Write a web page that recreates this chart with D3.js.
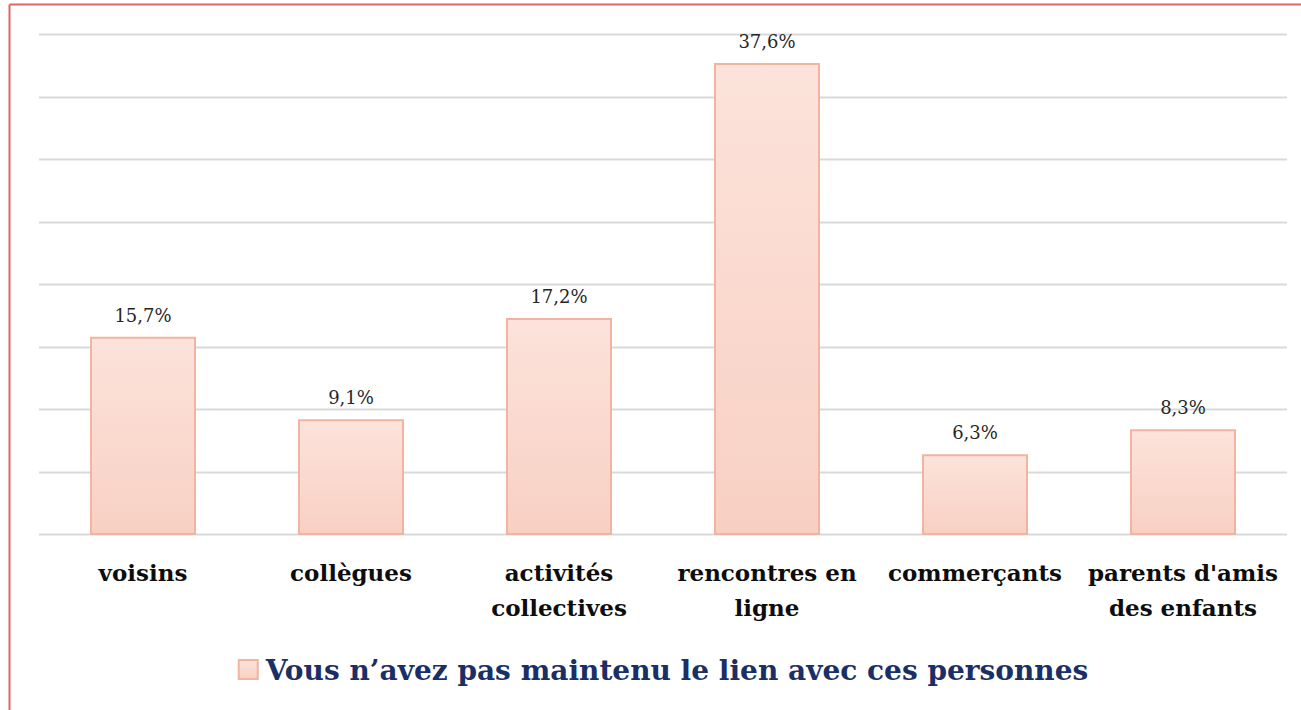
<!DOCTYPE html>
<meta charset="utf-8">
<style>
  body { margin: 0; background: #fff; }
</style>
<body>
<script src="https://cdn.jsdelivr.net/npm/d3@7"></script>
<script>
// data
var categories = [["voisins"], ["collègues"], ["activités", "collectives"], ["rencontres en", "ligne"], ["commerçants"], ["parents d'amis", "des enfants"]];
var values = [15.7, 9.1, 17.2, 37.6, 6.3, 8.3];
var ticks = [0, 5, 10, 15, 20, 25, 30, 35, 40];
var seriesName = "Vous n\u2019avez pas maintenu le lien avec ces personnes";

var width = 1301, height = 710;
var margin = { left: 39, right: 14, top: 34, bottom: 176 };
var serif = "'DejaVu Serif', 'Liberation Serif', serif";

var svg = d3.select("body").append("svg")
  .attr("width", width)
  .attr("height", height)
  .style("font-family", serif);

var defs = svg.append("defs");
var grad = defs.append("linearGradient")
  .attr("id", "barFill")
  .attr("x1", 0).attr("y1", 0).attr("x2", 0).attr("y2", 1);
grad.append("stop").attr("offset", "0%").attr("stop-color", "#fce3db");
grad.append("stop").attr("offset", "100%").attr("stop-color", "#f8d0c3");

// frame: only top and left edges are visible
svg.append("line").attr("x1", 9.5).attr("x2", width).attr("y1", 4.5).attr("y2", 4.5)
  .attr("stroke", "#e06666").attr("stroke-width", 2);
svg.append("line").attr("x1", 9.5).attr("x2", 9.5).attr("y1", 4.5).attr("y2", height)
  .attr("stroke", "#e06666").attr("stroke-width", 2);

var x = d3.scaleBand()
  .domain(d3.range(values.length))
  .range([margin.left, width - margin.right])
  .paddingInner(0.5)
  .paddingOuter(0.25);

var y = d3.scaleLinear()
  .domain([0, 40])
  .range([height - margin.bottom, margin.top]);

// gridlines
svg.append("g").selectAll("line")
  .data(ticks)
  .enter().append("line")
  .attr("x1", margin.left)
  .attr("x2", width - margin.right)
  .attr("y1", function(d) { return Math.round(y(d)) + 0.5; })
  .attr("y2", function(d) { return Math.round(y(d)) + 0.5; })
  .attr("stroke", "#d9d9d9")
  .attr("stroke-width", 2);

// bars
svg.append("g").selectAll("rect")
  .data(values)
  .enter().append("rect")
  .attr("x", function(d, i) { return x(i); })
  .attr("y", function(d) { return y(d); })
  .attr("width", x.bandwidth())
  .attr("height", function(d) { return y(0) - y(d); })
  .attr("fill", "url(#barFill)")
  .attr("stroke", "#f2b4a0")
  .attr("stroke-width", 2);

// value labels
svg.append("g").selectAll("text")
  .data(values)
  .enter().append("text")
  .attr("x", function(d, i) { return x(i) + x.bandwidth() / 2; })
  .attr("y", function(d) { return y(d) - 16; })
  .attr("text-anchor", "middle")
  .attr("font-size", 18)
  .attr("fill", "#262626")
  .text(function(d) { return d.toFixed(1).replace(".", ",") + "%"; });

// category labels
var cat = svg.append("g").selectAll("text")
  .data(categories)
  .enter().append("text")
  .attr("text-anchor", "middle")
  .attr("font-size", 23)
  .attr("font-weight", "bold")
  .attr("fill", "#0d0d0d")
  .attr("transform", function(d, i) { return "translate(" + (x(i) + x.bandwidth() / 2) + ",581)"; });
cat.selectAll("tspan")
  .data(function(d) { return d; })
  .enter().append("tspan")
  .attr("x", 0)
  .attr("y", function(d, j) { return j * 35; })
  .text(function(d) { return d; });

// legend
var legend = svg.append("g");
var legendText = legend.append("text")
  .attr("y", 680)
  .attr("font-size", 28)
  .attr("font-weight", "bold")
  .attr("fill", "#1a2f66")
  .text(seriesName);
var tw = legendText.node().getComputedTextLength();
var lx = (margin.left + width - margin.right) / 2 - (tw + 28) / 2;
legend.append("rect")
  .attr("x", lx + 1).attr("y", 660)
  .attr("width", 19).attr("height", 19)
  .attr("fill", "url(#barFill)")
  .attr("stroke", "#f2b4a0")
  .attr("stroke-width", 2);
legendText.attr("x", lx + 28);
</script>
</body>
